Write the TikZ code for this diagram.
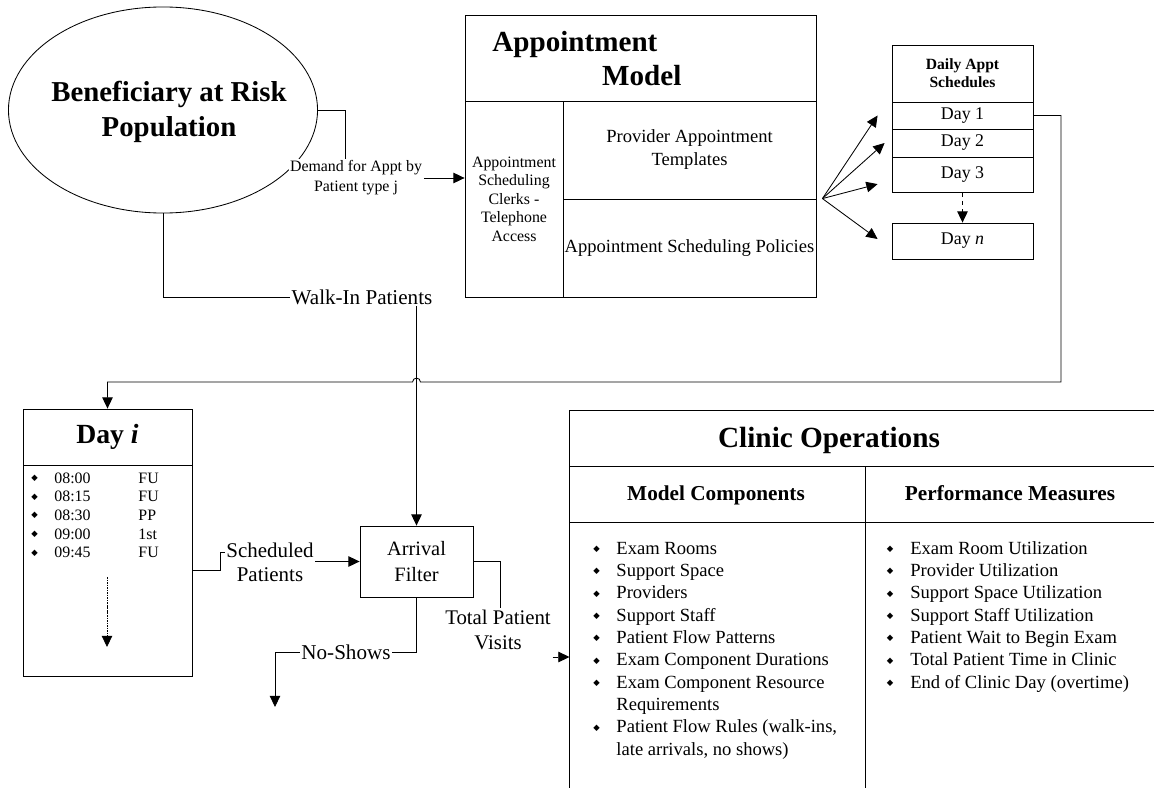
\documentclass[tikz,border=0pt]{standalone}
\usepackage{fontspec}
\setmainfont{Liberation Serif}
\newfontfamily\dejavu{DejaVu Sans}
\usetikzlibrary{arrows.meta,positioning,shapes.geometric}

\newcommand{\fsz}[2]{\fontsize{#1}{#2}\selectfont}
\newcommand{\bul}{\raisebox{1.8pt}{\dejavu\fsz{6}{7}◆}}

\tikzset{
  cell/.style={draw, inner sep=0pt, align=center},
  wh/.style 2 args={minimum width=#1*0.025cm, minimum height=#2*0.025cm},
  arr/.style={-{Triangle[length=8pt,width=7.5pt]}},
  lbl/.style={inner sep=1pt, align=center, fill=white},
  dotline/.style={dash pattern=on 1.2pt off 0.6pt},
}

\begin{document}
\begin{tikzpicture}[x=0.025cm, y=-0.025cm, line width=0.6pt]
\useasboundingbox (0,0) rectangle (1154,788);

% population
\node[draw, ellipse, minimum width=7.725cm, minimum height=5.15cm] (benef) at (163,110) {};
\node[align=center, font=\bfseries\fsz{20.5}{25}] (beneftxt) at (169,112) {Beneficiary at Risk\\Population};

% appointment model
\node[cell, wh={351}{86}] (apptitle) at (640.5,58) {};
\node[inner sep=0pt, anchor=west, align=left, font=\bfseries\fsz{20.7}{24.2}] (apptxt) at (492,59) {Appointment\\\hspace*{78pt}Model};
\node[cell, wh={98}{196}, font=\fsz{11.3}{13.2}] (clerks) at (514,199) {Appointment\\Scheduling\\Clerks -\\Telephone\\Access};
\node[cell, wh={253}{98}, font=\fsz{13.2}{16.4}] (templ) at (689.5,150) {Provider Appointment\\Templates};
\node[cell, wh={253}{98}, font=\fsz{13.2}{16.4}] (policy) at (689.5,248) {Appointment Scheduling Policies};

% daily schedules
\node[cell, wh={141}{57}, font=\bfseries\fsz{11.1}{12.8}] (daily) at (962.5,73.5) {Daily Appt\\Schedules};
\node[cell, wh={141}{27}, font=\fsz{12.7}{15}] (day1) at (962.5,115.5) {Day 1};
\node[cell, wh={141}{28}, font=\fsz{12.7}{15}] (day2) at (962.5,143) {Day 2};
\node[cell, wh={141}{35}, font=\fsz{12.7}{15}] (day3) at (962.5,174.5) {Day 3};
\node[cell, wh={141}{36}, font=\fsz{12.7}{15}] (dayn) at (962.5,241) {Day \textit{n}};

\coordinate (fan) at ([xshift=0.15cm]policy.north east);
\draw[arr] (fan) -- ([xshift=-0.35cm]day1.west);
\draw[arr] (fan) -- ([xshift=-0.175cm]day2.west);
\draw[arr] (fan) -- ([xshift=-0.35cm,yshift=-0.24cm]day3.west);
\draw[arr] (fan) -- ([xshift=-0.35cm,yshift=0.05cm]dayn.west);
\draw[arr, dashed] (day3.south) -- (dayn.north);

% demand
\node[lbl, font=\fsz{11.3}{14.2}] (demand) at (356,178) {Demand for Appt by\\Patient type j};
\draw (benef.east) -| (demand.north -| 345,0);
\draw[arr] (demand.east) -- (demand.east -| clerks.west);

% walk-in
\node[lbl, font=\fsz{15}{18}] (walkin) at (362,297) {Walk-In Patients};
\draw (benef.south) |- (walkin.west);

% day i
\node[cell, wh={169}{56}, font=\bfseries\fsz{19.7}{23}] (dayi) at (107.5,437) {Day \textit{i}};
\node[cell, wh={169}{211}] (dayibody) at (107.5,570.5) {};
\node[inner sep=0pt, anchor=base west, font=\fsz{11.3}{13.3}] (slots) at (31,483) {%
\begin{tabular}[t]{@{}p{0.575cm}@{}p{2.1cm}@{}l@{}}
\bul & 08:00 & FU\\
\bul & 08:15 & FU\\
\bul & 08:30 & PP\\
\bul & 09:00 & 1st\\
\bul & 09:45 & FU\\
\end{tabular}};
\coordinate (dotA) at (107,577);
\coordinate (dotB) at (107,647);
\draw[arr, dotline] (dotA) -- (dotB);

% day 1 back to day i
\coordinate (hop) at (416.5,382);
\draw[arr] (day1.east) -| (1061,382) -- ([xshift=2.8pt]hop) arc[start angle=0, end angle=180, radius=2.8pt] -- (dayi.north |- hop) -- (dayi.north);

% arrival filter
\node[cell, wh={113}{71}, font=\fsz{14.5}{19}] (filter) at (416.5,561.5) {Arrival\\Filter};
\draw[arr] (walkin.south -| filter.north) -- (filter.north);

\node[lbl, font=\fsz{14.9}{17}] (sched) at (270,562) {Scheduled\\Patients};
\draw (dayibody.east |- 0,570) -- (220,570) -- (220,552) -- (sched.west |- 0,552);
\draw[arr] (sched.east |- filter.west) -- (filter.west);

\node[lbl, font=\fsz{14.8}{17.8}] (tpv) at (498,630) {Total Patient\\Visits};
\draw (filter.east) -| (tpv.north -| 500,0);
\coordinate (cliW) at (569.5,657);
\draw[arr] (tpv.east |- cliW) -- (cliW);

\node[lbl, font=\fsz{15}{18}] (noshow) at (346,652) {No-Shows};
\coordinate (nsend) at (275,707);
\draw (filter.south) |- (noshow.east);
\draw[arr] (noshow.west) -| (nsend);

% clinic operations
\draw (1154,410) -- (569.5,410) -- (569.5,788);
\draw (569.5,466) -- (1154,466);
\draw (569.5,522) -- (1154,522);
\draw (865,466) -- (865,788);
\node[font=\bfseries\fsz{20.8}{25}] (clitle) at (829,440) {Clinic Operations};
\node[font=\bfseries\fsz{15.1}{18}] (mchead) at (716,495) {Model Components};
\node[font=\bfseries\fsz{15.1}{18}] (pmhead) at (1010,493) {Performance Measures};
\node[inner sep=0pt, anchor=base west, font=\fsz{13.2}{15.9}] (mclist) at (593,554) {%
\begin{tabular}[t]{@{}p{0.575cm}@{}l@{}}
\bul & Exam Rooms\\
\bul & Support Space\\
\bul & Providers\\
\bul & Support Staff\\
\bul & Patient Flow Patterns\\
\bul & Exam Component Durations\\
\bul & Exam Component Resource\\
     & Requirements\\
\bul & Patient Flow Rules (walk-ins,\\
     & late arrivals, no shows)\\
\end{tabular}};
\node[inner sep=0pt, anchor=base west, font=\fsz{13.2}{15.9}] (pmlist) at (886.5,554) {%
\begin{tabular}[t]{@{}p{0.585cm}@{}l@{}}
\bul & Exam Room Utilization\\
\bul & Provider Utilization\\
\bul & Support Space Utilization\\
\bul & Support Staff Utilization\\
\bul & Patient Wait to Begin Exam\\
\bul & Total Patient Time in Clinic\\
\bul & End of Clinic Day (overtime)\\
\end{tabular}};
\end{tikzpicture}
\end{document}
